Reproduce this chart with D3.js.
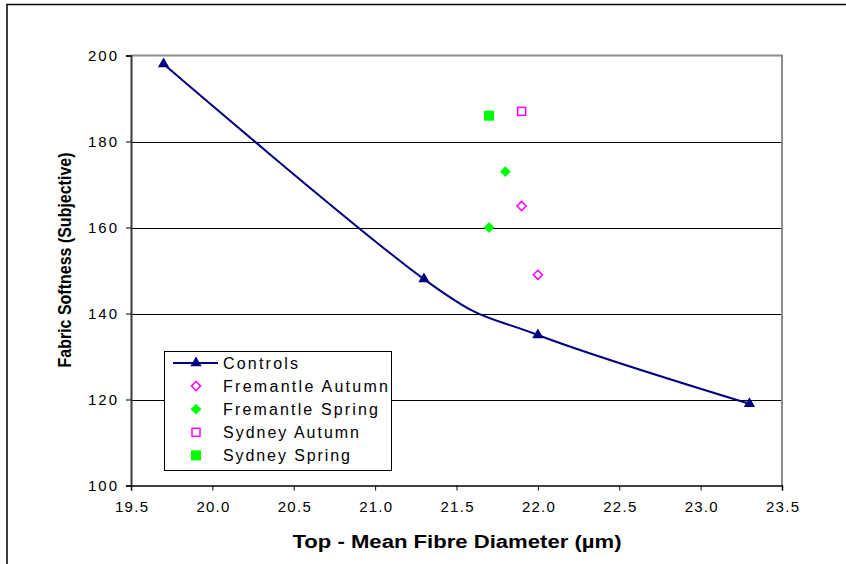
<!DOCTYPE html>
<html>
<head>
<meta charset="utf-8">
<script src="https://cdn.jsdelivr.net/npm/d3@7/dist/d3.min.js"></script>
<style>
  html, body { margin: 0; padding: 0; background: #fff; }
  svg { display: block; font-family: "Liberation Sans", Arial, sans-serif; }
</style>
</head>
<body>
<svg id="chart" width="846" height="564"></svg>
<script>
// Fabric softness versus top mean fibre diameter
const controlsX = [19.7, 21.3, 22.0, 23.3];
const controlsY = [198, 148, 135, 119];
const fremantleAutumnX = [21.9, 22.0];
const fremantleAutumnY = [165, 149];
const fremantleSpringX = [21.8, 21.7];
const fremantleSpringY = [173, 160];
const sydneyAutumnX = [21.9];
const sydneyAutumnY = [187];
const sydneySpringX = [21.7];
const sydneySpringY = [186];

const xTicks = [19.5, 20.0, 20.5, 21.0, 21.5, 22.0, 22.5, 23.0, 23.5];
const yTicks = [100, 120, 140, 160, 180, 200];
const legendLabels = ["Controls", "Fremantle Autumn", "Fremantle Spring", "Sydney Autumn", "Sydney Spring"];
const legendWidths = [75, 165, 155, 136, 127];

const svg = d3.select("#chart");

// outer chart frame
svg.append("rect")
  .attr("x", 7).attr("y", 4.5).attr("width", 900).attr("height", 600)
  .attr("fill", "none").attr("stroke", "#000").attr("stroke-width", 1.5);

const plot = { left: 131, right: 782, top: 55.5, bottom: 485.5 };

const x = d3.scaleLinear().domain([19.5, 23.5]).range([plot.left, plot.right]);
const y = d3.scaleLinear().domain([100, 200]).range([plot.bottom, plot.top]);

// horizontal gridlines
svg.append("g").selectAll("line")
  .data(yTicks.filter(v => v > 100 && v < 200))
  .join("line")
  .attr("x1", plot.left).attr("x2", plot.right)
  .attr("y1", d => Math.round(y(d)) + 0.5).attr("y2", d => Math.round(y(d)) + 0.5)
  .attr("stroke", "#000").attr("stroke-width", 1);

// plot area top and right edges
svg.append("path")
  .attr("d", `M${plot.left},${plot.top}H${plot.right}V${plot.bottom}`)
  .attr("fill", "none").attr("stroke", "#8c8c8c").attr("stroke-width", 2);

// y axis
const yAxis = svg.append("g")
  .attr("transform", `translate(${plot.left},0)`)
  .call(d3.axisLeft(y).tickValues(yTicks).tickFormat(d3.format("d")).tickSize(5).tickPadding(9));
yAxis.select(".domain").attr("stroke", "#3a3a3a").attr("stroke-width", 2);
yAxis.selectAll(".tick line").attr("stroke", "#000");
yAxis.selectAll(".tick text")
  .attr("font-size", 15).attr("fill", "#000")
  .attr("font-family", "'Liberation Sans', Arial, sans-serif")
  .attr("textLength", 29).attr("lengthAdjust", "spacing");

// x axis
const xAxis = svg.append("g")
  .attr("transform", `translate(0,${plot.bottom})`)
  .call(d3.axisBottom(x).tickValues(xTicks).tickFormat(d3.format(".1f")).tickSize(5).tickPadding(11));
xAxis.select(".domain").attr("stroke", "#000").attr("stroke-width", 1.5);
xAxis.selectAll(".tick line").attr("stroke", "#000");
xAxis.selectAll(".tick text")
  .attr("font-size", 15).attr("fill", "#000")
  .attr("font-family", "'Liberation Sans', Arial, sans-serif")
  .attr("textLength", 33).attr("lengthAdjust", "spacing");

// axis titles
svg.append("text")
  .attr("x", 457).attr("y", 548)
  .attr("text-anchor", "middle")
  .attr("font-size", 18).attr("font-weight", "bold")
  .attr("textLength", 329).attr("lengthAdjust", "spacingAndGlyphs")
  .text("Top - Mean Fibre Diameter (µm)");

svg.append("text")
  .attr("transform", "translate(71,260) rotate(-90)")
  .attr("text-anchor", "middle")
  .attr("font-size", 18).attr("font-weight", "bold")
  .attr("textLength", 215).attr("lengthAdjust", "spacingAndGlyphs")
  .text("Fabric Softness (Subjective)");

// marker shapes
const navy = "#000080", magenta = "#ff00ff", green = "#00ff00";
const triangle = d3.symbol().type(d3.symbolTriangle).size(55);
const diamond = s => `M0,${-s}L${s},0L0,${s}L${-s},0Z`;

// controls smoothed line
const controls = controlsX.map((v, i) => [v, controlsY[i]]);
svg.append("path")
  .datum(controls)
  .attr("d", d3.line().x(d => x(d[0])).y(d => y(d[1])).curve(d3.curveCatmullRom.alpha(0)))
  .attr("fill", "none").attr("stroke", navy).attr("stroke-width", 2);
svg.append("g").selectAll("path")
  .data(controls).join("path")
  .attr("transform", d => `translate(${x(d[0])},${y(d[1])})`)
  .attr("d", triangle).attr("fill", navy);

// Fremantle Autumn: open magenta diamonds
svg.append("g").selectAll("path")
  .data(fremantleAutumnX.map((v, i) => [v, fremantleAutumnY[i]])).join("path")
  .attr("transform", d => `translate(${x(d[0])},${y(d[1])})`)
  .attr("d", diamond(4.6)).attr("fill", "#fff").attr("stroke", magenta).attr("stroke-width", 1.5);

// Fremantle Spring: filled green diamonds
svg.append("g").selectAll("path")
  .data(fremantleSpringX.map((v, i) => [v, fremantleSpringY[i]])).join("path")
  .attr("transform", d => `translate(${x(d[0])},${y(d[1])})`)
  .attr("d", diamond(5.4)).attr("fill", green);

// Sydney Autumn: open magenta squares
svg.append("g").selectAll("rect")
  .data(sydneyAutumnX.map((v, i) => [v, sydneyAutumnY[i]])).join("rect")
  .attr("x", d => x(d[0]) - 4).attr("y", d => y(d[1]) - 4)
  .attr("width", 8).attr("height", 8)
  .attr("fill", "#fff").attr("stroke", magenta).attr("stroke-width", 1.5);

// Sydney Spring: filled green squares
svg.append("g").selectAll("rect")
  .data(sydneySpringX.map((v, i) => [v, sydneySpringY[i]])).join("rect")
  .attr("x", d => x(d[0]) - 5).attr("y", d => y(d[1]) - 5)
  .attr("width", 10).attr("height", 10)
  .attr("fill", green);

// legend
const legend = svg.append("g");
legend.append("rect")
  .attr("x", 164.5).attr("y", 351.5).attr("width", 227).attr("height", 119)
  .attr("fill", "#fff").attr("stroke", "#000").attr("stroke-width", 1);

const rowY = i => 363 + i * 23.1;
const mx = 196;
legend.append("line")
  .attr("x1", 173).attr("x2", 218).attr("y1", rowY(0)).attr("y2", rowY(0))
  .attr("stroke", navy).attr("stroke-width", 2);
legend.append("path").attr("transform", `translate(${mx},${rowY(0)})`).attr("d", triangle).attr("fill", navy);
legend.append("path").attr("transform", `translate(${mx},${rowY(1)})`)
  .attr("d", diamond(4.6)).attr("fill", "#fff").attr("stroke", magenta).attr("stroke-width", 1.5);
legend.append("path").attr("transform", `translate(${mx},${rowY(2)})`)
  .attr("d", diamond(5.4)).attr("fill", green);
legend.append("rect").attr("x", mx - 4).attr("y", rowY(3) - 4).attr("width", 8).attr("height", 8)
  .attr("fill", "#fff").attr("stroke", magenta).attr("stroke-width", 1.5);
legend.append("rect").attr("x", mx - 5).attr("y", rowY(4) - 5).attr("width", 10).attr("height", 10)
  .attr("fill", green);

legend.selectAll("text.lab")
  .data(legendLabels).join("text")
  .attr("class", "lab")
  .attr("x", 223).attr("y", (d, i) => rowY(i))
  .attr("dy", "0.36em")
  .attr("font-size", 16).attr("fill", "#000")
  .attr("textLength", (d, i) => legendWidths[i]).attr("lengthAdjust", "spacing")
  .text(d => d);
</script>
</body>
</html>
